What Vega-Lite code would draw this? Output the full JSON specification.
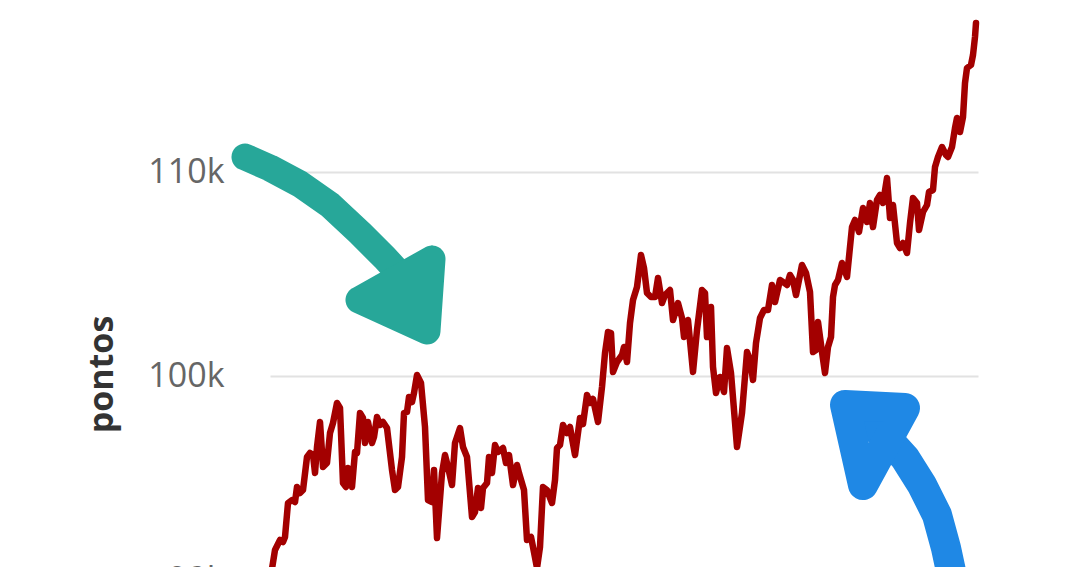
{
  "$schema": "https://vega.github.io/schema/vega-lite/v6.json",
  "width": 708,
  "height": 590,
  "autosize": {"type": "none"},
  "padding": {"left": 270, "top": 0, "right": 102, "bottom": 0},
  "background": "white",
  "config": {"view": {"stroke": null}, "font": "Open Sans"},
  "datasets": {
    "ibov": [
      {"dia":0,"pontos":90270},{"dia":2,"pontos":91495},{"dia":4.5,"pontos":91985},{"dia":6,"pontos":91887},{"dia":7,"pontos":92132},
      {"dia":8.5,"pontos":93799},{"dia":10.5,"pontos":93946},{"dia":12,"pontos":93848},{"dia":13,"pontos":94583},{"dia":14.5,"pontos":94289},
      {"dia":16,"pontos":94436},{"dia":18,"pontos":96054},{"dia":19.5,"pontos":96250},{"dia":21,"pontos":96152},{"dia":22,"pontos":95270},
      {"dia":23,"pontos":96544},{"dia":24.5,"pontos":97770},{"dia":26,"pontos":95564},{"dia":28,"pontos":95760},{"dia":29.5,"pontos":97230},
      {"dia":31,"pontos":97721},{"dia":33,"pontos":98701},{"dia":34.5,"pontos":98456},{"dia":36,"pontos":94779},{"dia":37.5,"pontos":94583},
      {"dia":38.5,"pontos":95515},{"dia":40.5,"pontos":94583},{"dia":42,"pontos":96299},{"dia":43,"pontos":96250},{"dia":44.5,"pontos":98211},
      {"dia":46,"pontos":97966},{"dia":47,"pontos":96740},{"dia":48.5,"pontos":97770},{"dia":50.5,"pontos":96740},{"dia":51.5,"pontos":97034},
      {"dia":53,"pontos":98015},{"dia":54.5,"pontos":97623},{"dia":56,"pontos":97770},{"dia":58,"pontos":97475},{"dia":60.5,"pontos":95417},
      {"dia":62,"pontos":94436},{"dia":63.5,"pontos":94583},{"dia":65.5,"pontos":96054},{"dia":66.5,"pontos":98211},{"dia":68,"pontos":98260},
      {"dia":69,"pontos":98995},{"dia":70.5,"pontos":98750},{"dia":71.5,"pontos":99191},{"dia":73,"pontos":100074},{"dia":75,"pontos":99681},
      {"dia":77,"pontos":97524},{"dia":78.5,"pontos":93946},{"dia":80.5,"pontos":93848},{"dia":81.5,"pontos":95417},{"dia":83,"pontos":92083},
      {"dia":85.5,"pontos":95270},{"dia":87,"pontos":96152},{"dia":88.5,"pontos":95564},{"dia":90.5,"pontos":94681},{"dia":92,"pontos":96740},
      {"dia":94.5,"pontos":97475},{"dia":96,"pontos":96544},{"dia":98,"pontos":96054},{"dia":100.5,"pontos":93113},{"dia":102,"pontos":93358},
      {"dia":103.5,"pontos":94534},{"dia":105,"pontos":93554},{"dia":106,"pontos":94534},{"dia":108,"pontos":94779},{"dia":109,"pontos":96054},
      {"dia":110.5,"pontos":95270},{"dia":112,"pontos":96642},{"dia":113.5,"pontos":96299},{"dia":116,"pontos":96495},{"dia":117.5,"pontos":95760},
      {"dia":119,"pontos":96152},{"dia":121,"pontos":94681},{"dia":123,"pontos":95662},{"dia":124,"pontos":95270},{"dia":126.5,"pontos":94436},
      {"dia":128,"pontos":91985},{"dia":130,"pontos":92132},{"dia":131,"pontos":91642},{"dia":133,"pontos":90613},{"dia":134.5,"pontos":91642},
      {"dia":136,"pontos":94583},{"dia":138,"pontos":94436},{"dia":140.5,"pontos":93799},{"dia":142,"pontos":94926},{"dia":143,"pontos":96495},
      {"dia":144.5,"pontos":96642},{"dia":146,"pontos":97623},{"dia":148,"pontos":97230},{"dia":149.5,"pontos":97524},{"dia":152,"pontos":96152},
      {"dia":154.5,"pontos":97966},{"dia":156,"pontos":97672},{"dia":158,"pontos":99093},{"dia":159.5,"pontos":98701},{"dia":161,"pontos":98897},
      {"dia":163.5,"pontos":97770},{"dia":165.5,"pontos":99485},{"dia":167,"pontos":101152},{"dia":168.5,"pontos":102181},{"dia":170,"pontos":102132},
      {"dia":171,"pontos":100221},{"dia":173,"pontos":100711},{"dia":175.5,"pontos":101054},{"dia":176.5,"pontos":101446},{"dia":178,"pontos":100711},
      {"dia":179.5,"pontos":102623},{"dia":181,"pontos":103750},{"dia":183,"pontos":104387},{"dia":185,"pontos":105956},{"dia":186.5,"pontos":105319},
      {"dia":188,"pontos":104093},{"dia":190,"pontos":103897},{"dia":192,"pontos":103897},{"dia":193.5,"pontos":104828},{"dia":195.5,"pontos":103603},
      {"dia":197,"pontos":103995},{"dia":199.5,"pontos":104240},{"dia":201,"pontos":102770},{"dia":203.5,"pontos":103603},{"dia":205.5,"pontos":102868},
      {"dia":206.5,"pontos":101936},{"dia":208.5,"pontos":102770},{"dia":211,"pontos":100221},{"dia":213,"pontos":102279},{"dia":215.5,"pontos":104240},
      {"dia":217,"pontos":104093},{"dia":218,"pontos":101936},{"dia":220,"pontos":103407},{"dia":221,"pontos":100466},{"dia":222.5,"pontos":99191},
      {"dia":224.5,"pontos":99975},{"dia":226.5,"pontos":99240},{"dia":228,"pontos":101397},{"dia":230,"pontos":100172},{"dia":233,"pontos":96544},
      {"dia":235.5,"pontos":98211},{"dia":238,"pontos":101201},{"dia":239.5,"pontos":100809},{"dia":241,"pontos":99828},{"dia":242.5,"pontos":101642},
      {"dia":244.5,"pontos":102868},{"dia":246.5,"pontos":103260},{"dia":248.5,"pontos":103260},{"dia":250.5,"pontos":104485},{"dia":252,"pontos":103652},
      {"dia":254.5,"pontos":104730},{"dia":256,"pontos":104632},{"dia":258,"pontos":104485},{"dia":259.5,"pontos":104976},{"dia":261,"pontos":104730},
      {"dia":262.5,"pontos":103995},{"dia":265.5,"pontos":105466},{"dia":267.5,"pontos":105074},{"dia":269.5,"pontos":104142},{"dia":271,"pontos":101201},
      {"dia":272.5,"pontos":101299},{"dia":273.5,"pontos":102672},{"dia":275.5,"pontos":101201},{"dia":277,"pontos":100172},{"dia":278.5,"pontos":101446},
      {"dia":280,"pontos":101936},{"dia":281,"pontos":103897},{"dia":282,"pontos":104485},{"dia":283.5,"pontos":104730},{"dia":285.5,"pontos":105564},
      {"dia":288,"pontos":104877},{"dia":290.5,"pontos":107328},{"dia":292,"pontos":107672},{"dia":294,"pontos":107083},{"dia":296,"pontos":108260},
      {"dia":298,"pontos":107574},{"dia":299.5,"pontos":108505},{"dia":301,"pontos":107328},{"dia":303,"pontos":108652},{"dia":304.5,"pontos":108897},
      {"dia":306,"pontos":108505},{"dia":308,"pontos":109730},{"dia":309.5,"pontos":107770},{"dia":311,"pontos":108407},{"dia":313,"pontos":106544},
      {"dia":314.5,"pontos":106299},{"dia":316,"pontos":106544},{"dia":318,"pontos":106054},{"dia":319.5,"pontos":107524},{"dia":321,"pontos":108750},
      {"dia":323,"pontos":108505},{"dia":324,"pontos":107181},{"dia":326,"pontos":108064},{"dia":328,"pontos":108407},{"dia":329,"pontos":109044},
      {"dia":331,"pontos":109142},{"dia":332,"pontos":110270},{"dia":333.5,"pontos":110760},{"dia":335.5,"pontos":111250},{"dia":337.5,"pontos":110858},
      {"dia":338.5,"pontos":110760},{"dia":340.5,"pontos":111250},{"dia":342,"pontos":112182},{"dia":343,"pontos":112672},{"dia":344.5,"pontos":111985},
      {"dia":346,"pontos":112721},{"dia":347,"pontos":114387},{"dia":348,"pontos":115123},{"dia":350,"pontos":115270},{"dia":351,"pontos":115760},
      {"dia":352,"pontos":116642},{"dia":352.5,"pontos":117328}
    ],
    "setas": [
      {"seta":"verde","traco":"v1","ordem":1,"dia":-13,"pontos":110760},
      {"seta":"verde","traco":"v1","ordem":2,"dia":-0.5,"pontos":110221},
      {"seta":"verde","traco":"v1","ordem":3,"dia":14.5,"pontos":109436},
      {"seta":"verde","traco":"v1","ordem":4,"dia":29.5,"pontos":108407},
      {"seta":"verde","traco":"v1","ordem":5,"dia":44.5,"pontos":107034},
      {"seta":"verde","traco":"v1","ordem":6,"dia":57,"pontos":105809},
      {"seta":"verde","traco":"v1","ordem":7,"dia":67,"pontos":104730},
      {"seta":"verde","traco":"v1","ordem":8,"dia":72,"pontos":104240},
      {"seta":"verde","traco":"v2","ordem":1,"dia":44,"pontos":103750},
      {"seta":"verde","traco":"v2","ordem":2,"dia":80.5,"pontos":105760},
      {"seta":"verde","traco":"v2","ordem":3,"dia":78,"pontos":102230},
      {"seta":"verde","traco":"v2","ordem":4,"dia":44,"pontos":103750},
      {"seta":"verde","traco":"v2","ordem":5,"dia":68,"pontos":103897},
      {"seta":"verde","traco":"v2","ordem":6,"dia":80.5,"pontos":105760},
      {"seta":"verde","traco":"v2","ordem":7,"dia":70,"pontos":104500},
      {"seta":"verde","traco":"v2","ordem":8,"dia":74,"pontos":103000},
      {"seta":"azul","traco":"a1","ordem":1,"dia":342,"pontos":89534},
      {"seta":"azul","traco":"a1","ordem":2,"dia":337.5,"pontos":91593},
      {"seta":"azul","traco":"a1","ordem":3,"dia":333,"pontos":93211},
      {"seta":"azul","traco":"a1","ordem":4,"dia":325.5,"pontos":94681},
      {"seta":"azul","traco":"a1","ordem":5,"dia":317,"pontos":96005},
      {"seta":"azul","traco":"a1","ordem":6,"dia":307,"pontos":97083},
      {"seta":"azul","traco":"a1","ordem":7,"dia":298.5,"pontos":97770},
      {"seta":"azul","traco":"a2","ordem":1,"dia":287,"pontos":98603},
      {"seta":"azul","traco":"a2","ordem":2,"dia":317,"pontos":98456},
      {"seta":"azul","traco":"a2","ordem":3,"dia":296,"pontos":94681},
      {"seta":"azul","traco":"a2","ordem":4,"dia":287,"pontos":98603}
    ]
  },
  "layer": [
    {
      "data": {"name": "ibov"},
      "mark": {"type": "line", "color": "#a30000", "strokeWidth": 6.5, "strokeJoin": "round", "strokeCap": "round"},
      "encoding": {
        "x": {"field": "dia", "type": "quantitative", "scale": {"domain": [-0.5, 353.5], "nice": false, "zero": false}, "axis": null},
        "y": {
          "field": "pontos", "type": "quantitative",
          "scale": {"domain": [89534, 118456], "nice": false, "zero": false},
          "axis": {
            "values": [90000, 100000, 110000],
            "format": "~s",
            "domain": false,
            "ticks": false,
            "tickSize": 0,
            "labelPadding": 46,
            "labelFontSize": 34,
            "labelColor": "#666666",
            "labelFont": "Open Sans",
            "labelBound": false,
            "labelFlush": false,
            "labelOverlap": false,
            "grid": true,
            "gridColor": "#e2e2e2",
            "gridWidth": 2,
            "title": "pontos",
            "titleFont": "Open Sans",
            "titleFontSize": 34,
            "titleFontWeight": "bold",
            "titleColor": "#333333",
            "titleAngle": 270,
            "titleAlign": "center",
            "titleBaseline": "alphabetic",
            "titleX": -158,
            "titleY": 374
          }
        }
      }
    },
    {
      "data": {"name": "setas"},
      "mark": {"type": "line", "strokeCap": "round", "strokeJoin": "round"},
      "encoding": {
        "x": {"field": "dia", "type": "quantitative", "scale": {"domain": [-0.5, 353.5], "nice": false, "zero": false}},
        "y": {"field": "pontos", "type": "quantitative", "scale": {"domain": [89534, 118456], "nice": false, "zero": false}},
        "detail": {"field": "traco", "type": "nominal"},
        "order": {"field": "ordem", "type": "quantitative"},
        "color": {"field": "seta", "type": "nominal", "scale": {"domain": ["verde", "azul"], "range": ["#27a799", "#1f88e5"]}, "legend": null},
        "strokeWidth": {"field": "seta", "type": "ordinal", "scale": {"domain": ["verde", "azul"], "range": [27, 30]}, "legend": null}
      }
    }
  ]
}
